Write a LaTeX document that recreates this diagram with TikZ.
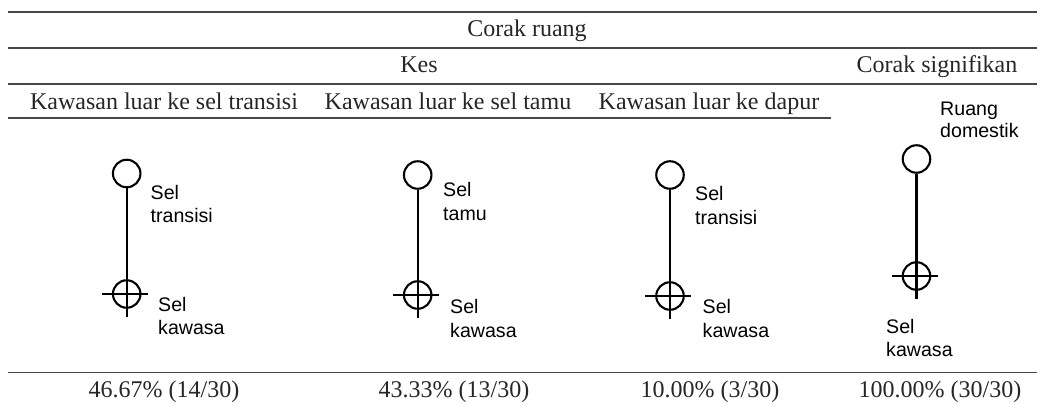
\documentclass[tikz,border=0pt]{standalone}
\usepackage{fontspec}
\setmainfont{Liberation Serif}
\newfontfamily\arialf{Liberation Sans}
\begin{document}
\begin{tikzpicture}[x=1pt,y=-1pt,
  rule/.style={draw=black!72,line width=1.6pt},
  head/.style={anchor=base,inner sep=0,text=black!85,font=\fontsize{24}{28}\selectfont},
  lbl/.style={anchor=base west,inner sep=0,font=\arialf\fontsize{19.6}{23}\selectfont},
  cellnode/.style={circle,draw,line width=2.1pt,minimum size=27.5pt,inner sep=0},
  stroke/.style={line width=2.1pt}]
\useasboundingbox (0,0) rectangle (1037,404);
% table rules
\coordinate (r1a) at (8,12);   \coordinate (r1b) at (1037,12);
\coordinate (r2a) at (8,48);   \coordinate (r2b) at (1037,48);
\coordinate (r3a) at (8,84);   \coordinate (r3b) at (1037,84);
\coordinate (r4a) at (8,118);  \coordinate (r4b) at (831,118);
\coordinate (r5a) at (8,372.5);\coordinate (r5b) at (1037,372.5);
\draw[rule] (r1a) -- (r1b);
\draw[rule] (r2a) -- (r2b);
\draw[rule] (r3a) -- (r3b);
\draw[rule] (r4a) -- (r4b);
\draw[rule] (r5a) -- (r5b);
% headers
\node[head] (h1) at (527,37) {Corak ruang};
\node[head] (h2) at (419,73) {Kes};
\node[head] (h3) at (937,73) {Corak signifikan};
\node[head] (h4) at (164,110) {Kawasan luar ke sel transisi};
\node[head] (h5) at (448,110) {Kawasan luar ke sel tamu};
\node[head] (h6) at (709,110) {Kawasan luar ke dapur};
% bottom values
\node[head] (v1) at (164,397) {46.67\% (14/30)};
\node[head] (v2) at (454,397) {43.33\% (13/30)};
\node[head] (v3) at (710,397) {10.00\% (3/30)};
\node[head] (v4) at (940,397) {100.00\% (30/30)};
% diagram 1
\node[cellnode] (t1) at (126.7,173.5) {};
\node[cellnode] (k1) at (126.7,294) {};
\draw[stroke] (t1) -- (k1.center) -- ++(0,23);
\draw[stroke] (k1.center) ++(-25,0) -- ++(46,0);
\node[lbl] (a1) at (150.5,199) {Sel};
\node[lbl] (b1) at (150.5,222.5) {transisi};
\node[lbl] (c1) at (158,311.5) {Sel};
\node[lbl] (d1) at (158,334.5) {kawasa};
% diagram 2
\node[cellnode] (t2) at (417.7,175) {};
\node[cellnode] (k2) at (417.7,295) {};
\draw[stroke] (t2) -- (k2.center) -- ++(0,23);
\draw[stroke] (k2.center) ++(-25,0) -- ++(46,0);
\node[lbl] (a2) at (443,196) {Sel};
\node[lbl] (b2) at (443,220) {tamu};
\node[lbl] (c2) at (450,313.5) {Sel};
\node[lbl] (d2) at (450,337) {kawasa};
% diagram 3
\node[cellnode] (t3) at (670,175) {};
\node[cellnode] (k3) at (670,296) {};
\draw[stroke] (t3) -- (k3.center) -- ++(0,23);
\draw[stroke] (k3.center) ++(-25,0) -- ++(46,0);
\node[lbl] (a3) at (695,200) {Sel};
\node[lbl] (b3) at (695,224) {transisi};
\node[lbl] (c3) at (702.5,313.5) {Sel};
\node[lbl] (d3) at (702.5,337) {kawasa};
% diagram 4
\node[cellnode] (t4) at (916.5,159) {};
\node[cellnode] (k4) at (916.5,276) {};
\draw[stroke] (t4) -- (k4.center) -- ++(0,23);
\draw[stroke] (k4.center) ++(-25,0) -- ++(46,0);
\node[lbl] (a4) at (940,115) {Ruang};
\node[lbl] (b4) at (940,137) {domestik};
\node[lbl] (c4) at (886,333) {Sel};
\node[lbl] (d4) at (886,356) {kawasa};
\end{tikzpicture}
\end{document}
